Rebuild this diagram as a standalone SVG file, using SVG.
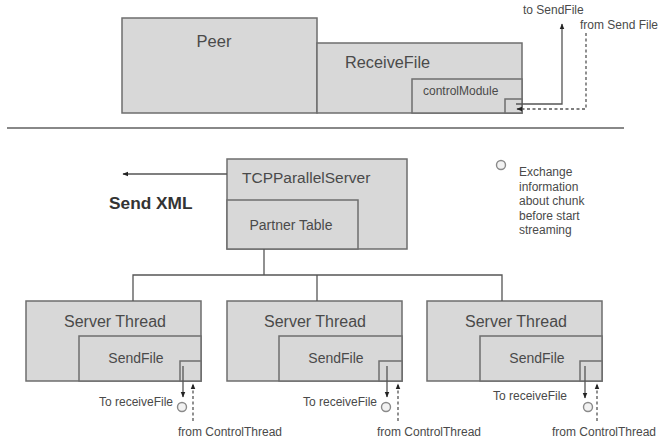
<svg xmlns="http://www.w3.org/2000/svg" width="669" height="440" viewBox="0 0 669 440">
<defs>
<style>
.box{fill:#d8d8d8;stroke:#6e6e6e;stroke-width:1.5}
.t{font-family:"Liberation Sans",Arial,sans-serif;fill:#4a4a4a}
.ln{fill:none;stroke:#555;stroke-width:1.3}
.dash{fill:none;stroke:#555;stroke-width:1.3;stroke-dasharray:3,2.5}
.tree{fill:none;stroke:#555;stroke-width:1.3}
.cir{fill:#f2f2f2;stroke:#8a8a8a;stroke-width:1.4}
</style>
<marker id="ah" viewBox="0 0 10 10" refX="9" refY="5" markerWidth="6" markerHeight="6" orient="auto" markerUnits="userSpaceOnUse">
<path d="M0,1 L10,5 L0,9 z" fill="#222"/>
</marker>
</defs>
<rect width="669" height="440" fill="#fff"/>

<line x1="7" y1="128" x2="624" y2="128" stroke="#888" stroke-width="2.2"/>

<g id="peer">
<rect class="box" x="122" y="18" width="195" height="95"/>
<text class="t" x="214" y="47" font-size="16.5" text-anchor="middle">Peer</text>
</g>
<g id="receivefile">
<rect class="box" x="317" y="43" width="205" height="70"/>
<text class="t" x="345" y="68" font-size="16.3">ReceiveFile</text>
</g>
<g id="controlmodule">
<rect class="box" x="412" y="79" width="110" height="34"/>
<text class="t" x="423" y="95" font-size="12">controlModule</text>
<rect class="box" x="505" y="99" width="17" height="14"/>
</g>

<g id="tcpserver">
<rect class="box" x="227" y="159" width="180" height="90"/>
<text class="t" x="242" y="183" font-size="15.5">TCPParallelServer</text>
</g>
<g id="partnertable">
<rect class="box" x="227" y="200" width="131" height="49"/>
<text class="t" x="291" y="230" font-size="14" text-anchor="middle">Partner Table</text>
</g>

<g id="sendxml">
<text class="t" x="109" y="209" font-size="17.3" font-weight="bold" style="fill:#333">Send XML</text>
</g>

<g id="legend">
<circle class="cir" cx="501" cy="165" r="4.5"/>
<text class="t" font-size="12">
<tspan x="519" y="176">Exchange</tspan>
<tspan x="519" y="190.5">information</tspan>
<tspan x="519" y="205">about chunk</tspan>
<tspan x="519" y="219.5">before start</tspan>
<tspan x="519" y="234">streaming</tspan>
</text>
</g>

<g id="thread1">
<rect class="box" x="26" y="301" width="175" height="80"/>
<text class="t" x="115" y="327" font-size="16" text-anchor="middle">Server Thread</text>
<rect class="box" x="79" y="336" width="122" height="45"/>
<text class="t" x="136" y="363" font-size="14" text-anchor="middle">SendFile</text>
<rect class="box" x="180" y="361" width="21" height="20"/>
</g>
<g id="thread2">
<rect class="box" x="227" y="301" width="175" height="80"/>
<text class="t" x="315" y="327" font-size="16" text-anchor="middle">Server Thread</text>
<rect class="box" x="279" y="336" width="123" height="45"/>
<text class="t" x="336" y="363" font-size="14" text-anchor="middle">SendFile</text>
<rect class="box" x="379" y="361" width="23" height="20"/>
</g>
<g id="thread3">
<rect class="box" x="427" y="301" width="175" height="80"/>
<text class="t" x="516" y="327" font-size="16" text-anchor="middle">Server Thread</text>
<rect class="box" x="480" y="336" width="122" height="45"/>
<text class="t" x="537" y="363" font-size="14" text-anchor="middle">SendFile</text>
<rect class="box" x="580" y="361" width="22" height="20"/>
</g>

<g id="connectors">
<polyline class="ln" points="516,104 562,104 562,24" marker-end="url(#ah)"/>
<polyline class="dash" points="586,33 586,109 517,109" marker-end="url(#ah)"/>
<line class="ln" x1="227" y1="174" x2="123" y2="174" marker-end="url(#ah)"/>
<polyline class="tree" points="264,249 264,275"/>
<polyline class="tree" points="133,301 133,275 502,275 502,301"/>
<line class="tree" x1="317" y1="275" x2="317" y2="301"/>
<line class="ln" x1="183" y1="366" x2="183" y2="397" marker-end="url(#ah)"/>
<line class="dash" x1="193" y1="421" x2="193" y2="384" marker-end="url(#ah)"/>
<line class="ln" x1="387" y1="366" x2="387" y2="397" marker-end="url(#ah)"/>
<line class="dash" x1="398" y1="421" x2="398" y2="384" marker-end="url(#ah)"/>
<line class="ln" x1="585" y1="366" x2="585" y2="398" marker-end="url(#ah)"/>
<line class="dash" x1="597" y1="421" x2="597" y2="384" marker-end="url(#ah)"/>
</g>

<g id="labels">
<text class="t" x="523" y="14" font-size="12">to SendFile</text>
<text class="t" x="580" y="29" font-size="12">from Send File</text>
<circle class="cir" cx="182" cy="407" r="4.5"/>
<circle class="cir" cx="386" cy="407" r="4.5"/>
<circle class="cir" cx="588" cy="407" r="4.5"/>
<text class="t" x="173" y="406" font-size="12" text-anchor="end">To receiveFile</text>
<text class="t" x="377" y="406" font-size="12" text-anchor="end">To receiveFile</text>
<text class="t" x="493" y="400" font-size="12">To receiveFile</text>
<text class="t" x="178" y="436" font-size="12">from ControlThread</text>
<text class="t" x="377" y="436" font-size="12">from ControlThread</text>
<text class="t" x="552" y="436" font-size="12">from ControlThread</text>
</g>
</svg>
